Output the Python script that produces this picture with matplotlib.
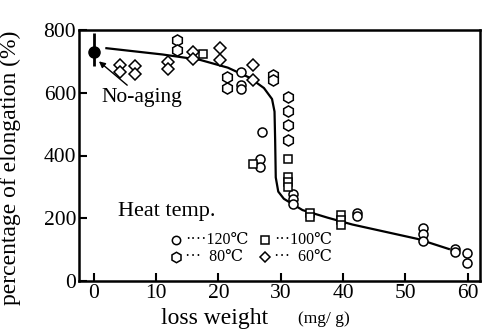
import matplotlib
matplotlib.use("Agg")
import matplotlib.pyplot as plt

plt.rcParams["font.family"] = ["Liberation Serif", "DejaVu Serif", "Noto Sans CJK JP"]

# 120 C (circles)
c120_x = [23.6, 23.6, 23.6, 27.0, 26.6, 26.6, 32.0, 32.0, 32.0, 42.2, 42.2,
          52.8, 52.8, 52.8, 58.0, 58.0, 59.9, 59.9]
c120_y = [666, 624, 612, 474, 390, 362, 276, 260, 246, 218, 206,
          170, 150, 128, 102, 92, 90, 58]

# 100 C (squares)
c100_x = [17.5, 25.5, 31.1, 31.1, 31.1, 31.1, 34.7, 34.7, 39.7, 39.7, 39.7]
c100_y = [723, 374, 390, 332, 316, 300, 218, 204, 210, 194, 180]

# 80 C (hexagons)
c80_x = [13.3, 13.3, 21.3, 21.3, 28.8, 28.8, 31.1, 31.1, 31.1, 31.1]
c80_y = [768, 736, 650, 614, 656, 640, 588, 542, 496, 448]

# 60 C (diamonds)
c60_x = [4.2, 4.2, 6.6, 6.6, 11.9, 11.9, 15.9, 15.9, 20.2, 20.2, 25.5, 25.5]
c60_y = [688, 666, 685, 660, 698, 676, 730, 708, 742, 704, 688, 640]

# no-aging point
noage_x = 0
noage_y = 730
noage_err = [[45], [60]]

# trend curve
curve_x = [2, 11, 17, 21.5, 25, 27.3, 28.6, 29.0, 29.1, 29.2, 29.6, 30.5,
           33.5, 37.5, 41.5, 52, 57]
curve_y = [742, 722, 705, 680, 648, 615, 580, 540, 450, 330, 285, 262,
           226, 202, 180, 134, 102]

fig = plt.figure(figsize=(4.88, 3.36), dpi=100)
ax = fig.add_axes([79 / 488, 55 / 336, 401 / 488, 251 / 336])

ax.plot(curve_x, curve_y, color="black", lw=1.6, zorder=1)

mk = dict(linestyle="none", markerfacecolor="white", markeredgecolor="black",
          markeredgewidth=1.1, zorder=3)
ax.plot(c120_x, c120_y, marker="o", markersize=6.5, **mk)
ax.plot(c100_x, c100_y, marker="s", markersize=6, **mk)
ax.plot(c80_x, c80_y, marker="h", markersize=8, **mk)
ax.plot(c60_x, c60_y, marker="D", markersize=6, **mk)

ax.errorbar([noage_x], [noage_y], yerr=noage_err, fmt="o", color="black",
            markersize=8, elinewidth=2, capsize=0, zorder=4)
ax.annotate("No-aging", xy=(noage_x + 0.8, noage_y - 30), xytext=(1.2, 585),
            fontsize=15.5, ha="left", va="center",
            arrowprops=dict(arrowstyle="-|>", color="black", lw=1,
                            mutation_scale=9, shrinkA=0, shrinkB=0))

# legend drawn by hand
ax.text(0.097, 0.275, "Heat temp.", transform=ax.transAxes, fontsize=16,
        ha="left", va="center")
leg_rows = [
    (0.163, [("o", 6, "····120℃"), ("s", 5.5, "···100℃")]),
    (0.096, [("h", 7.5, "···  80℃"), ("D", 5.5, "···  60℃")]),
]
for yy, items in leg_rows:
    for (m, ms, lab), xx in zip(items, [0.242, 0.464]):
        ax.plot([xx], [yy], marker=m, markersize=ms, transform=ax.transAxes,
                clip_on=False, **mk)
        ax.text(xx + 0.022, yy, lab, transform=ax.transAxes, fontsize=11.5,
                ha="left", va="center")

ax.set_xlim(-2.4, 62)
ax.set_ylim(0, 800)
ax.set_xticks([0, 10, 20, 30, 40, 50, 60])
ax.set_yticks([0, 200, 400, 600, 800])
ax.tick_params(direction="in", length=6, width=1.5, labelsize=15.5, pad=2)
for s in ax.spines.values():
    s.set_linewidth(1.8)

# x label: main words bigger, unit smaller
ax.text(0.339, -0.15, "loss weight", transform=ax.transAxes, fontsize=17,
        ha="center", va="center")
ax.text(0.546, -0.15, "(mg/ g)", transform=ax.transAxes, fontsize=12.5,
        ha="left", va="center")
ax.set_ylabel("percentage of elongation (%)", fontsize=17, labelpad=1)
ax.yaxis.set_label_coords(-0.145, 0.45)

fig.savefig("out.png", dpi=100)
